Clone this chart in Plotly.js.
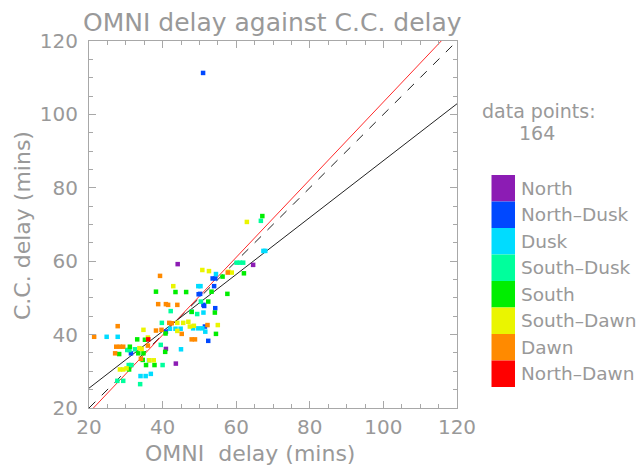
<!DOCTYPE html>
<html><head><meta charset="utf-8">
<script src="https://cdn.plot.ly/plotly-3.0.1.min.js"></script>
<style>html,body{margin:0;padding:0;background:#fff}#chart{width:642px;height:466px}</style>
</head><body><div id="chart"></div>
<script>
// Region categories and colours (legend order, top to bottom)
const regions = ['North','North-Dusk','Dusk','South-Dusk','South','South-Dawn','Dawn','North-Dawn'];
const regionColors = ['#8c1cb4','#0048ff','#00dcff','#00ff9c','#00ee00','#eaf500','#ff8a00','#ff0000'];

// OMNI delay (x) and C.C. delay (y) per region, in minutes
const northX = [44.1, 64.6, 40.9, 43.6];
const northY = [59.2, 59.0, 36.1, 32.1];

const northDuskX = [51.0, 49.8, 51.3, 51.1, 53.6, 54.3, 54.0, 54.3, 51.5, 52.4, 31.4, 40.9, 50.2];
const northDuskY = [111.3, 51.0, 47.8, 48.1, 55.3, 55.3, 53.2, 47.2, 42.2, 38.3, 34.9, 40.8, 51.1];

const duskX = [24.8, 27.8, 56.0, 67.4, 67.9, 49.7, 50.3, 54.5, 51.1, 47.9, 42.0, 43.5, 44.9, 48.3, 49.7, 51.6, 45.0, 36.3, 36.8, 34.0, 35.4, 50.8];
const duskY = [39.4, 39.4, 19.6, 62.8, 62.8, 53.2, 53.2, 56.5, 46.0, 46.2, 41.6, 41.6, 41.6, 41.7, 41.7, 40.8, 36.0, 33.0, 29.3, 28.7, 28.7, 41.7];

const southDuskX = [66.7, 60.1, 61.0, 61.9, 42.2, 50.4, 49.4, 39.8, 39.5, 40.0, 30.4, 31.0, 27.7, 29.3, 33.9, 30.8, 31.5, 32.5];
const southDuskY = [71.0, 59.6, 59.6, 59.6, 46.4, 49.0, 45.6, 43.2, 37.2, 31.7, 35.8, 35.8, 27.4, 27.4, 26.5, 31.7, 31.7, 36.0];

const southX = [67.1, 62.1, 56.3, 57.6, 52.4, 53.3, 54.2, 54.5, 38.2, 43.5, 46.4, 31.1, 28.2, 33.1, 35.2, 33.4, 34.8, 34.6, 40.7, 35.5, 37.8, 30.9, 40.8, 47.9];
const southY = [72.3, 56.7, 55.8, 51.1, 49.0, 51.7, 46.0, 40.2, 51.7, 51.6, 51.6, 36.7, 34.7, 38.7, 38.6, 34.9, 34.9, 33.1, 35.3, 31.7, 31.7, 30.5, 40.3, 46.2];

const southDawnX = [62.9, 50.8, 52.6, 57.9, 58.8, 42.9, 34.8, 44.0, 45.6, 47.0, 47.4, 48.5, 55.0, 33.7, 34.3, 36.4, 37.6, 28.4, 29.3, 30.2, 36.0, 44.0];
const southDawnY = [70.7, 57.6, 57.3, 57.1, 56.9, 53.2, 41.3, 43.2, 43.2, 43.5, 42.2, 42.4, 42.6, 36.3, 36.1, 33.0, 33.0, 30.5, 30.5, 30.8, 39.2, 41.0];

const dawnX = [21.4, 27.8, 27.4, 28.4, 29.3, 27.1, 34.1, 39.3, 38.8, 40.9, 41.5, 44.0, 38.2, 39.7, 41.8, 42.5, 45.2, 47.9, 48.8, 52.2, 57.7, 36.0];
const dawnY = [39.4, 42.3, 36.7, 36.7, 36.7, 34.9, 33.4, 56.0, 48.3, 48.3, 48.1, 48.1, 41.1, 41.3, 43.2, 43.1, 40.2, 38.7, 38.7, 42.6, 56.9, 37.0];

const northDawnX = [36.1];
const northDawnY = [38.7];

const seriesX = [northX, northDuskX, duskX, southDuskX, southX, southDawnX, dawnX, northDawnX];
const seriesY = [northY, northDuskY, duskY, southDuskY, southY, southDawnY, dawnY, northDawnY];

// Reference / fit lines: slope, intercept
const lineNames = ['one-to-one', 'fit (red)', 'fit (black)'];
const lineSlopes = [1.0, 1.058, 0.775];
const lineIntercepts = [0.0, -2.43, 9.9];
const lineEnds = [20, 120];

const axisTicks = [20, 40, 60, 80, 100, 120];
const nPoints = '164';

const txt = '#999999';
const axc = '#a8a8a8';
const FONT = 'DejaVu Sans, Inter, sans-serif';

const traces = [];
const lineColors = ['#222222', '#ff2a2a', '#222222'];
const lineDash = ['dash', 'solid', 'solid'];
for (let i = 0; i < lineNames.length; i++) {
  traces.push({
    type: 'scatter', mode: 'lines', name: lineNames[i], showlegend: false,
    x: lineEnds, y: lineEnds.map(v => lineSlopes[i] * v + lineIntercepts[i]),
    line: {color: lineColors[i], width: 1, dash: lineDash[i]}, hoverinfo: 'skip'
  });
}
for (let i = 0; i < regions.length; i++) {
  traces.push({
    type: 'scatter', mode: 'markers', name: regions[i], showlegend: false,
    x: seriesX[i], y: seriesY[i], cliponaxis: false,
    marker: {symbol: 'square', size: 4.5, color: regionColors[i], line: {width: 0}}
  });
}

// plot-area pixel geometry helpers (for legend placement)
const L = 89, R = 457, T = 41, B = 408;
const px = x => (x - L) / (R - L);
const py = y => (B - y) / (B - T);

const shapes = [];
const annotations = [];
const blockTop = 175, blockH = 26.5;
for (let i = 0; i < regions.length; i++) {
  shapes.push({type: 'rect', xref: 'paper', yref: 'paper',
    x0: px(491.5), x1: px(515), y0: py(blockTop + blockH * (i + 1)), y1: py(blockTop + blockH * i),
    fillcolor: regionColors[i], line: {width: 0}});
  annotations.push({xref: 'paper', yref: 'paper', x: px(519), y: py(blockTop + blockH * (i + 0.5)),
    xanchor: 'left', yanchor: 'middle', showarrow: false, text: regions[i].replace('-', '\u2013'),
    font: {family: FONT, size: 18.5, color: txt}});
}
annotations.push({xref: 'paper', yref: 'paper', x: px(539), y: py(111), xanchor: 'center', yanchor: 'middle',
  showarrow: false, text: 'data points:', font: {family: FONT, size: 19, color: txt}});
annotations.push({xref: 'paper', yref: 'paper', x: px(537), y: py(133), xanchor: 'center', yanchor: 'middle',
  showarrow: false, text: nPoints, font: {family: FONT, size: 19, color: txt}});
annotations.push({xref: 'paper', yref: 'paper', x: px(250), y: py(453), xanchor: 'center', yanchor: 'middle',
  showarrow: false, text: 'OMNI&nbsp; delay (mins)', font: {family: FONT, size: 22, color: txt}});
annotations.push({xref: 'paper', yref: 'paper', x: px(22), y: py(226), xanchor: 'center', yanchor: 'middle',
  textangle: -90, showarrow: false, text: 'C.C. delay (mins)', font: {family: FONT, size: 22, color: txt}});
annotations.push({xref: 'paper', yref: 'paper', x: px(272), y: py(22), xanchor: 'center', yanchor: 'middle',
  showarrow: false, text: 'OMNI delay against C.C. delay', font: {family: FONT, size: 25, color: txt}});

const axisBase = {
  range: [20, 120], tickmode: 'array', tickvals: axisTicks, ticktext: axisTicks.map(String),
  ticks: 'inside', ticklen: 7, tickwidth: 1, tickcolor: axc,
  showline: true, linecolor: axc, linewidth: 1, mirror: 'allticks',
  showgrid: false, zeroline: false,
  tickfont: {family: FONT, size: 20, color: txt},
  minor: {dtick: 5, tick0: 20, ticks: 'inside', ticklen: 4, tickcolor: axc, showgrid: false}
};

const layout = {
  width: 642, height: 466,
  margin: {l: L, r: 642 - R, t: T, b: 466 - B},
  paper_bgcolor: '#ffffff', plot_bgcolor: '#ffffff',
  showlegend: false,
  xaxis: Object.assign({}, axisBase, {ticklabelstandoff: 1}),
  yaxis: Object.assign({}, axisBase, {ticklabelstandoff: 6}),
  shapes: shapes, annotations: annotations
};

Plotly.newPlot('chart', traces, layout, {staticPlot: true, displayModeBar: false});
</script></body></html>
